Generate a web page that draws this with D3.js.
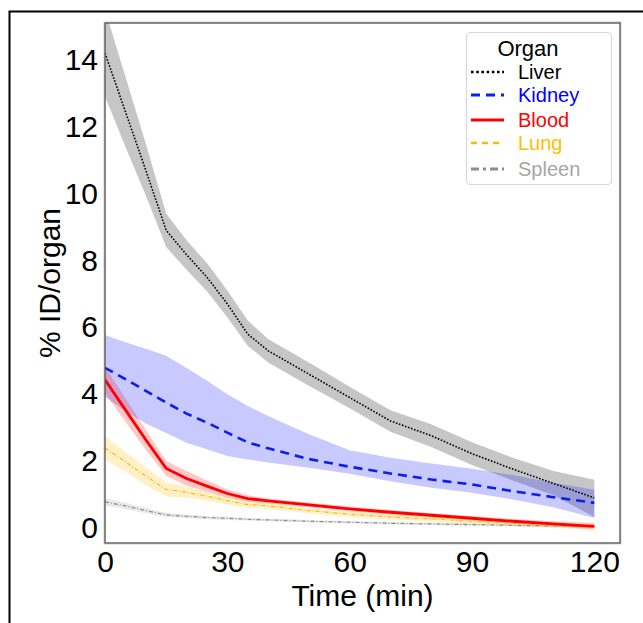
<!DOCTYPE html>
<html>
<head>
<meta charset="utf-8">
<script src="https://cdn.jsdelivr.net/npm/d3@7"></script>
<style>
body { margin: 0; background: #fff; }
text { font-family: "Liberation Sans", Arial, sans-serif; }
</style>
</head>
<body>
<svg id="mainChart"></svg>
<script>
var WIDTH = 643, HEIGHT = 623;
var PLOT = { LEFT: 105, RIGHT: 620, TOP: 23, BOTTOM: 543 };

// time points (min)
var times = [0, 5, 10, 15, 20, 25, 30, 35, 40, 50, 60, 70, 80, 90, 100, 110, 120];

var liverMean = [14.2, 12.45, 10.7, 8.9, 8.17, 7.5, 6.7, 5.8, 5.3, 4.6, 3.9, 3.2, 2.76, 2.22, 1.76, 1.33, 0.9];
var liverLo   = [12.9, 11.4, 9.95, 8.4, 7.72, 7.08, 6.3, 5.45, 4.95, 4.25, 3.58, 2.88, 2.42, 1.88, 1.42, 0.98, 0.33];
var liverHi   = [15.5, 13.5, 11.5, 9.4, 8.6, 7.92, 7.1, 6.2, 5.65, 4.95, 4.22, 3.52, 3.1, 2.56, 2.1, 1.7, 1.44];

var kidneyMean = [4.79, 4.45, 4.1, 3.75, 3.42, 3.15, 2.85, 2.56, 2.38, 2.06, 1.83, 1.63, 1.45, 1.3, 1.1, 0.92, 0.75];
var kidneyLo   = [3.92, 3.5, 3.12, 2.84, 2.55, 2.35, 2.15, 2.05, 1.96, 1.8, 1.62, 1.4, 1.2, 1.05, 0.85, 0.62, 0.3];
var kidneyHi   = [5.77, 5.55, 5.36, 5.15, 4.78, 4.4, 4.0, 3.65, 3.35, 2.8, 2.32, 2.1, 1.93, 1.77, 1.58, 1.35, 1.14];

var bloodMean = [4.43, 3.53, 2.64, 1.78, 1.48, 1.25, 1.03, 0.88, 0.81, 0.69, 0.57, 0.47, 0.38, 0.29, 0.2, 0.12, 0.05];
var bloodLo   = [4.03, 3.18, 2.34, 1.56, 1.26, 1.08, 0.9, 0.78, 0.74, 0.62, 0.5, 0.4, 0.31, 0.22, 0.13, 0.04, -0.05];
var bloodHi   = [4.83, 3.88, 2.94, 2.0, 1.7, 1.42, 1.16, 0.98, 0.88, 0.76, 0.64, 0.54, 0.45, 0.36, 0.27, 0.2, 0.15];

var lungMean = [2.39, 1.98, 1.55, 1.15, 1.07, 0.95, 0.82, 0.7, 0.66, 0.52, 0.41, 0.33, 0.27, 0.2, 0.14, 0.08, 0.03];
var lungLo   = [2.04, 1.68, 1.28, 0.93, 0.9, 0.82, 0.7, 0.6, 0.57, 0.44, 0.33, 0.25, 0.19, 0.12, 0.06, 0.0, -0.05];
var lungHi   = [2.74, 2.28, 1.82, 1.37, 1.24, 1.08, 0.94, 0.8, 0.75, 0.6, 0.49, 0.41, 0.35, 0.28, 0.22, 0.16, 0.11];

var spleenMean = [0.78, 0.66, 0.52, 0.39, 0.35, 0.31, 0.29, 0.26, 0.24, 0.2, 0.17, 0.14, 0.12, 0.1, 0.08, 0.06, 0.05];
var spleenLo   = [0.68, 0.57, 0.44, 0.33, 0.3, 0.26, 0.24, 0.22, 0.2, 0.16, 0.13, 0.1, 0.08, 0.06, 0.04, 0.02, 0.01];
var spleenHi   = [0.88, 0.75, 0.6, 0.45, 0.4, 0.36, 0.34, 0.3, 0.28, 0.24, 0.21, 0.18, 0.16, 0.14, 0.12, 0.1, 0.09];

var xTicks = [0, 30, 60, 90, 120];
var yTicks = [0, 2, 4, 6, 8, 10, 12, 14];

var organs = [
    { name: 'Liver',  mean: liverMean,  lo: liverLo,  hi: liverHi,  line: '#000000', band: 'rgba(128,128,128,0.45)', text: '#000000', width: 1.6, dash: '1.6,1.6', legWidth: 2.6, legDash: '2.6,2.6' },
    { name: 'Kidney', mean: kidneyMean, lo: kidneyLo, hi: kidneyHi, line: '#0a1ef2', band: 'rgba(20,30,255,0.24)',  text: '#0000ff', width: 2.6, dash: '9,6',     legWidth: 3,   legDash: '9,6' },
    { name: 'Blood',  mean: bloodMean,  lo: bloodLo,  hi: bloodHi,  line: '#ff0000', band: 'rgba(255,0,0,0.22)',    text: '#ff0000', width: 2.8, dash: null,      legWidth: 3,   legDash: null },
    { name: 'Lung',   mean: lungMean,   lo: lungLo,   hi: lungHi,   line: '#ffb800', band: 'rgba(255,190,0,0.22)',  text: '#ffc000', width: 1.2, dash: '4,2,1,2', legWidth: 2.6, legDash: '6,5' },
    { name: 'Spleen', mean: spleenMean, lo: spleenLo, hi: spleenHi, line: '#8c8c8c', band: 'rgba(150,150,150,0.22)', text: '#a6a6a6', width: 1.2, dash: '4,2,1,2', legWidth: 3,   legDash: '8,4,3,4' }
];

var xScale = d3.scaleLinear()
    .domain([0, 126.3])
    .range([PLOT.LEFT, PLOT.RIGHT]);
var yScale = d3.scaleLinear()
    .domain([-0.45, 15.1])
    .range([PLOT.BOTTOM, PLOT.TOP]);

var svg = d3.select('#mainChart')
    .attr('width', WIDTH)
    .attr('height', HEIGHT);

// outer frame
svg.append('path')
    .attr('d', 'M9.5,' + HEIGHT + 'V11.5H' + WIDTH)
    .style('fill', 'none')
    .style('stroke', '#000')
    .style('stroke-width', 2);

svg.append('clipPath')
    .attr('id', 'plotClip')
    .append('rect')
    .attr('x', PLOT.LEFT)
    .attr('y', PLOT.TOP)
    .attr('width', PLOT.RIGHT - PLOT.LEFT)
    .attr('height', PLOT.BOTTOM - PLOT.TOP);

var plot = svg.append('g').attr('clip-path', 'url(#plotClip)');

var area = function (o) {
    return d3.area()
        .x(function (d, i) { return xScale(times[i]); })
        .y0(function (d, i) { return yScale(o.lo[i]); })
        .y1(function (d, i) { return yScale(o.hi[i]); });
};
var line = d3.line()
    .x(function (d, i) { return xScale(times[i]); })
    .y(function (d) { return yScale(d); });

// bands first, then lines on top
organs.forEach(function (o) {
    plot.append('path')
        .datum(o.mean)
        .attr('d', area(o))
        .style('fill', o.band)
        .style('stroke', 'none');
});
organs.slice().reverse().forEach(function (o) {
    plot.append('path')
        .datum(o.mean)
        .attr('d', line)
        .style('fill', 'none')
        .style('stroke', o.line)
        .style('stroke-width', o.width)
        .style('stroke-dasharray', o.dash);
});

// plot frame
svg.append('rect')
    .attr('x', PLOT.LEFT - 1)
    .attr('y', PLOT.TOP - 1)
    .attr('width', PLOT.RIGHT - PLOT.LEFT + 2)
    .attr('height', PLOT.BOTTOM - PLOT.TOP + 2)
    .style('fill', 'none')
    .style('stroke', '#cfcfcf')
    .style('stroke-width', 1);
svg.append('rect')
    .attr('x', PLOT.LEFT)
    .attr('y', PLOT.TOP)
    .attr('width', PLOT.RIGHT - PLOT.LEFT)
    .attr('height', PLOT.BOTTOM - PLOT.TOP)
    .style('fill', 'none')
    .style('stroke', '#5a5a5a')
    .style('stroke-width', 1.4);

// axes
var xAxis = d3.axisBottom(xScale)
    .tickValues(xTicks)
    .tickSize(0)
    .tickPadding(10);
var yAxis = d3.axisLeft(yScale)
    .tickValues(yTicks)
    .tickSize(0)
    .tickPadding(7);

svg.append('g')
    .attr('class', 'x axis')
    .attr('transform', 'translate(0,' + PLOT.BOTTOM + ')')
    .call(xAxis)
    .call(function (g) { g.select('.domain').remove(); })
    .selectAll('text')
    .style('font-size', '30px')
    .style('fill', '#000')
    .attr('dy', '0.76em')
    .attr('y', 6);

svg.append('g')
    .attr('class', 'y axis')
    .attr('transform', 'translate(' + PLOT.LEFT + ',0)')
    .call(yAxis)
    .call(function (g) { g.select('.domain').remove(); })
    .selectAll('text')
    .style('font-size', '30px')
    .style('fill', '#000');

svg.selectAll('.axis text').style('font-family', '"Liberation Sans", Arial, sans-serif');

svg.append('text')
    .attr('x', (PLOT.LEFT + PLOT.RIGHT) / 2)
    .attr('y', 606)
    .attr('text-anchor', 'middle')
    .style('font-size', '30px')
    .text('Time (min)');

svg.append('text')
    .attr('transform', 'translate(60,' + (PLOT.TOP + PLOT.BOTTOM) / 2 + ') rotate(-90)')
    .attr('text-anchor', 'middle')
    .style('font-size', '30px')
    .text('% ID/organ');

// legend
var legend = svg.append('g').attr('class', 'legend');
legend.append('rect')
    .attr('x', 466.5)
    .attr('y', 32.5)
    .attr('width', 145)
    .attr('height', 152)
    .attr('rx', 4)
    .style('fill', '#fff')
    .style('stroke', '#d8d8d8')
    .style('stroke-width', 1.2);
legend.append('text')
    .attr('x', 528)
    .attr('y', 56)
    .attr('text-anchor', 'middle')
    .style('font-size', '22px')
    .text('Organ');

var legY = [72, 95, 120, 143, 169];
var item = legend.selectAll('.item')
    .data(organs)
    .enter()
    .append('g')
    .attr('class', 'item')
    .attr('transform', function (d, i) { return 'translate(0,' + legY[i] + ')'; });
item.append('line')
    .attr('x1', 471)
    .attr('x2', 504)
    .style('stroke', function (d) { return d.line; })
    .style('stroke-width', function (d) { return d.legWidth; })
    .style('stroke-dasharray', function (d) { return d.legDash; });
item.append('text')
    .attr('x', 518)
    .attr('y', 7)
    .style('font-size', '20px')
    .style('fill', function (d) { return d.text; })
    .text(function (d) { return d.name; });
</script>
</body>
</html>
